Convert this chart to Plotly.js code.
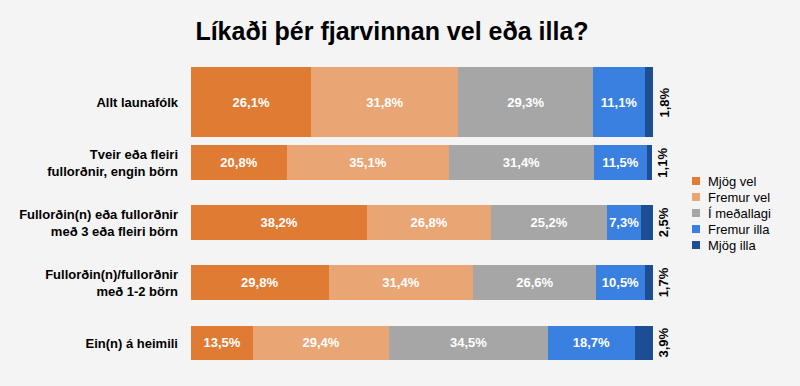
<!DOCTYPE html>
<html><head><meta charset="utf-8">
<script src="https://cdn.plot.ly/plotly-3.0.1.min.js"></script>
<style>html,body{margin:0;padding:0;background:#F4F4F4;}</style>
</head><body><div id="chart" style="width:800px;height:386px;"></div>
<script>
const categories = ["Allt launafólk", "Tveir eða fleiri<br>fullorðnir, engin börn", "Fullorðin(n) eða fullorðnir<br>með 3 eða fleiri börn", "Fullorðin(n)/fullorðnir<br>með 1-2 börn", "Ein(n) á heimili"];
const seriesNames = ["Mjög vel", "Fremur vel", "Í meðallagi", "Fremur illa", "Mjög illa"];
const mjogVel = [26.1, 20.8, 38.2, 29.8, 13.5];
const fremurVel = [31.8, 35.1, 26.8, 31.4, 29.4];
const imedallagi = [29.3, 31.4, 25.2, 26.6, 34.5];
const fremurIlla = [11.1, 11.5, 7.3, 10.5, 18.7];
const mjogIlla = [1.8, 1.1, 2.5, 1.7, 3.9];
const colors = ["#E07B33", "#E9A674", "#A6A6A6", "#3A80E0", "#1C4E94"];
const barWidths = [1.165, 0.58, 0.58, 0.58, 0.58];

const FONT = 'Liberation Sans, Arial, sans-serif';
const W = 800, H = 386;
const M = {l: 191, r: 147, t: 64, b: 13};
const plotW = W - M.l - M.r, plotH = H - M.t - M.b;

const series = [mjogVel, fremurVel, imedallagi, fremurIlla, mjogIlla];
const fmt = v => v.toFixed(1).replace('.', ',') + '%';
const traces = series.map((vals, i) => ({
  type: 'bar', orientation: 'h', name: seriesNames[i], showlegend: false,
  y: categories, x: vals, width: barWidths,
  marker: {color: colors[i]},
  text: i < 4 ? vals.map(fmt) : vals.map(() => ''),
  textposition: i < 4 ? 'inside' : 'none',
  insidetextanchor: 'middle', textangle: 0, constraintext: 'none',
  textfont: {family: FONT, size: 13, color: '#FFFFFF', weight: 'bold'},
  hoverinfo: 'none'
}));

const annotations = categories.map((c, j) => ({
  x: mjogVel[j] + fremurVel[j] + imedallagi[j] + fremurIlla[j] + mjogIlla[j],
  y: c, xref: 'x', yref: 'y', xanchor: 'center', yanchor: 'middle',
  xshift: 11, textangle: -90, showarrow: false,
  text: '<b>' + fmt(mjogIlla[j]) + '</b>',
  font: {family: FONT, size: 13, color: '#000000'}
}));

// manual legend (paper coords computed from pixel layout)
const px2x = px => (px - M.l) / plotW;
const py2y = py => (H - M.b - py) / plotH;
const shapes = [];
seriesNames.forEach((name, i) => {
  const cy = 181 + i * 16;
  shapes.push({type: 'rect', xref: 'paper', yref: 'paper',
    x0: px2x(692), x1: px2x(700), y0: py2y(cy + 4), y1: py2y(cy - 4),
    fillcolor: colors[i], line: {width: 0}});
  annotations.push({xref: 'paper', yref: 'paper', x: px2x(706), y: py2y(cy),
    xanchor: 'left', yanchor: 'middle', showarrow: false, text: name,
    font: {family: FONT, size: 13, color: '#000000'}});
});

const layout = {
  width: W, height: H,
  paper_bgcolor: '#F4F4F4', plot_bgcolor: '#F4F4F4',
  margin: M,
  barmode: 'stack', bargap: 0,
  title: {text: '<b>Líkaði þér fjarvinnan vel eða illa?</b>', x: 0.49, xanchor: 'center', y: 0.92, yanchor: 'middle',
    font: {family: FONT, size: 25, color: '#000000'}},
  xaxis: {range: [0, 100.1], showgrid: false, zeroline: false, showticklabels: false, fixedrange: true},
  yaxis: {range: [4.5, -0.64], autorange: false, showgrid: false, zeroline: false, ticks: '', ticklabelstandoff: 12,
    tickfont: {family: FONT, size: 13, color: '#000000', weight: 'bold'}},
  annotations: annotations,
  shapes: shapes,
  showlegend: false
};
Plotly.newPlot('chart', traces, layout, {displayModeBar: false, staticPlot: true});
</script></body></html>
